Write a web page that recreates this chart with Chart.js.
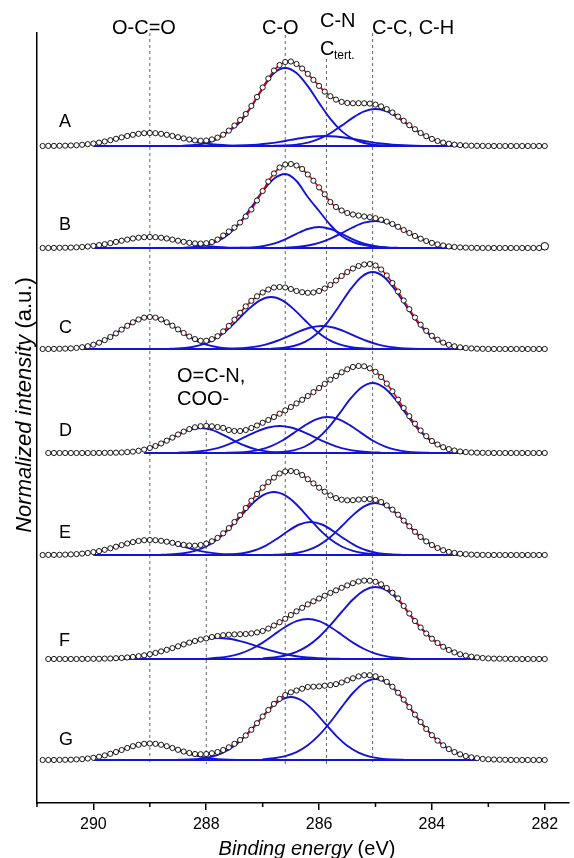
<!DOCTYPE html>
<html><head><meta charset="utf-8">
<script src="https://cdn.jsdelivr.net/npm/chart.js@4.4.1/dist/chart.umd.min.js"></script>
<style>html,body{margin:0;padding:0;background:#fff;overflow:hidden}#wrap{width:574px;height:858px;position:relative}</style>
</head><body><div id="wrap"><canvas id="c" width="574" height="858"></canvas></div>
<script>
// Binding energy grid of the measured points (eV)
const energy = [290.9,290.8,290.7,290.6,290.5,290.4,290.3,290.2,290.1,290.0,
289.9,289.8,289.7,289.6,289.5,289.4,289.3,289.2,289.1,289.0,
288.9,288.8,288.7,288.6,288.5,288.4,288.3,288.2,288.1,288.0,
287.9,287.8,287.7,287.6,287.5,287.4,287.3,287.2,287.1,287.0,
286.9,286.8,286.7,286.6,286.5,286.4,286.3,286.2,286.1,286.0,
285.9,285.8,285.7,285.6,285.5,285.4,285.3,285.2,285.1,285.0,
284.9,284.8,284.7,284.6,284.5,284.4,284.3,284.2,284.1,284.0,
283.9,283.8,283.7,283.6,283.5,283.4,283.3,283.2,283.1,283.0,
282.9,282.8,282.7,282.6,282.5,282.4,282.3,282.2,282.1,282.0];

// Measured intensities (above each spectrum's own baseline)
const specA = [0,0.1,0.1,0.2,0.3,0.5,0.8,1.2,1.8,2.5,
3.4,4.5,5.8,7.2,8.6,10,11.2,12.2,12.8,13,
12.8,12.2,11.2,10.1,8.8,7.6,6.5,5.6,5.3,5.5,
6.6,8.4,11.3,15.4,20.5,26,32,40,49,58.5,
67.5,75.5,81,84,84.5,82,77.5,72.1,66.1,60.1,
54.4,49.8,46.4,44.1,43,42.7,42.8,42.7,42.4,41.4,
39.6,36.9,33.5,29.4,25.2,20.8,16.8,13,9.8,7.1,
5,3.4,2.3,1.4,0.9,0.5,0.3,0.2,0.1,0,
0,0,0,0,0,0,0,0,0,0];
const specB = [0,0,0.1,0.2,0.3,0.4,0.7,1,1.5,2.1,
2.9,3.8,4.9,6.1,7.3,8.4,9.5,10.3,10.8,11,
10.8,10.3,9.5,8.4,7.3,6.2,5.2,4.6,4.4,4.8,
6,8.5,12.5,16.5,20.5,25.5,31.5,38.5,47.5,57,
66.5,74.5,80.5,83.5,84,82.5,79,73.5,67.3,60.6,
53.7,46,41,37.5,35,33.5,32.5,31.5,30.8,29.8,
28.3,26.4,24,21.2,18,15,12,9.3,7,5.1,
3.6,2.5,1.6,1,0.6,0.4,0.2,0.1,0,0,
0,0,0,0,0,0,0,0,0,null];
const specBLast = [[282.0,1.7]];
const specC = [0,0,0.1,0.2,0.35,0.6,1.1,1.8,2.8,4.3,
6.3,8.9,12,15.6,19.4,23.2,26.7,29.5,31.4,32,
31.4,29.5,26.7,23.3,19.6,16,12.5,9.9,8.3,8.3,
9.8,12.8,17.6,23.1,29.3,36.2,42.6,48.2,52.7,56.5,
59.5,61.5,62,61.5,60,58,56.8,56.2,56.5,58,
60.5,64,68.5,73,77,80.5,83,84.5,85,83.5,
79.5,73.5,66,57.5,48.5,39.8,31.5,24.3,18.2,13.2,
9.3,6.4,4.2,2.7,1.7,1,0.6,0.3,0.2,0,
0,0,0,0,0,0,0,0,0,0];
const specD = [null,0,0,0,0,0,0,0,0,0,
0.1,0.1,0.2,0.3,0.5,0.9,1.4,2.2,3.4,5,
7,9.5,12.3,15.4,18.5,21.4,23.9,25.7,26.8,27.1,
26.7,26,25.1,23,22,22,23,25,27.5,30.2,
33,36,39.3,42.6,46,49.6,53.2,57,60.9,65,
69.1,73.3,77.1,80.7,83.7,86,87,86.7,84.7,81.1,
76,69.4,61.7,53.4,45,36.8,29.3,22.5,16.8,12,
8.5,5.8,3.9,2.5,1.5,0.9,0.5,0.3,0.2,0.1,
0,0,0,0,0,0,0,0,0,0];
const specE = [0,0.1,0.1,0.2,0.4,0.6,0.9,1.4,2,2.9,
3.9,5.2,6.7,8.3,9.9,11.5,12.9,14,14.8,15,
14.8,14.2,13.3,12.2,11,10.1,9.5,9.3,10,11.4,
13.7,17.1,21.7,26.9,33,39.9,47,54.3,61,67.4,
72.9,77.4,81.5,83.5,84,83,80,75.8,71.6,67.3,
63.3,59.6,56.9,55.3,54.7,54.8,55.4,55.8,55.9,55.1,
53,49.6,45.4,40.3,34.4,28.7,23.2,18.1,13.6,10,
7,4.8,3.1,2.1,1.3,0.8,0.4,0.2,0.1,0,
0,0,0,0,0,0,0,0,0,0];
const specF = [null,0,0,0,0,0,0,0.1,0.1,0.2,
0.2,0.4,0.5,0.8,1.1,1.5,2.1,2.8,3.7,4.8,
6.1,7.6,9.2,10.9,12.7,14.6,16.4,18,19.5,20.6,
22,23,23.8,24.3,24.6,24.8,25,25.6,26.6,28,
30.4,33.5,36.8,40.2,44,47.7,51.2,54.6,57.7,60.5,
63.3,66.1,68.6,71.2,73.6,75.8,77.5,78.4,78.3,77.2,
74.7,71,66.3,60.6,53,45.5,38,31.5,25.5,20.3,
16,12.2,9,6.6,4.7,3.4,2.4,1.6,1,0.6,
0.4,0.3,0.2,0.1,0,0,0,0,0,0];
const specG = [0,0,0,0.1,0.2,0.3,0.6,0.9,1.5,2.2,
3.3,4.6,6.2,8,10,12,13.8,15.2,16.2,16.5,
16.2,15.2,13.8,12,10.2,8.5,7,6,5.8,6,
6.8,8,10,12.7,16.2,20,24.5,30.2,36.8,43.5,
50,56.1,61.1,65,67.7,69.5,71.3,73,73.3,73.6,
74.3,74.9,75.9,77.5,79.8,81.7,83.6,84.8,84.8,83.7,
81.4,78.2,73.3,67.3,60.3,52.9,45.4,38,31,24.8,
19.4,14.7,10.9,7.9,5.7,3.9,2.7,1.8,1.1,0.7,
0.5,0.3,0.2,0.1,0,0,0,0,0,0];

// Fitted components [energy, intensity]
const A_OCO = [[290.0,2.5],[289.8,4.5],[289.6,7.2],[289.4,10],[289.2,12.2],[289.0,13],[288.8,12.2],[288.6,10],[288.4,7.2],[288.2,4.5],[288.0,2.5],[287.8,1.2],[287.6,0.5],[287.4,0.2],[287.2,0]];
const A_CO = [[288.6,0],[288.4,0.4],[288.2,1.1],[288.0,3],[287.8,7.2],[287.6,14.9],[287.4,24],[287.2,39.5],[287.0,57.5],[286.8,73],[286.6,78],[286.4,73],[286.2,59.9],[286.0,43.1],[285.8,27.1],[285.6,14.9],[285.4,7.2],[285.2,3],[285.0,1.1],[284.8,0.4],[284.6,0]];
const A_CN = [[287.7,0.1],[287.5,0.3],[287.3,0.7],[287.1,1.4],[286.9,2.5],[286.7,4.1],[286.5,6.1],[286.3,8],[286.1,9.5],[285.9,10],[285.7,9.5],[285.5,8],[285.3,6.1],[285.1,4.1],[284.9,2.5],[284.7,1.4],[284.5,0.7],[284.3,0.3],[284.1,0.1]];
const A_CC = [[286.8,0.2],[286.6,0.5],[286.4,1.4],[286.2,3.4],[286.0,7.1],[285.8,12.8],[285.6,20.4],[285.4,28.4],[285.2,34.6],[285.0,37],[284.8,34.6],[284.6,28.4],[284.4,20.4],[284.2,12.8],[284.0,7.1],[283.8,3.4],[283.6,1.4],[283.4,0.5]];

const B_OCO = [[290.0,2.1],[289.8,3.8],[289.6,6.1],[289.4,8.4],[289.2,10.3],[289.0,11],[288.8,10.3],[288.6,8.4],[288.4,6.1],[288.2,3.8],[288.0,2.1],[287.8,1],[287.6,0.4],[287.4,0.2],[287.2,0]];
const B_CO = [[288.4,0.4],[288.2,1.1],[288.0,2.9],[287.8,6.8],[287.6,14.1],[287.4,25.7],[287.2,40.8],[287.0,56.8],[286.8,69.3],[286.6,74],[286.4,67],[286.2,51],[286.0,37],[285.8,23],[285.6,12],[285.4,6],[285.2,3],[285.0,1.2],[284.8,0.4],[284.6,0]];
const B_CN = [[287.4,0.2],[287.2,0.6],[287.0,1.8],[286.8,4.3],[286.6,8.6],[286.4,14.2],[286.2,19],[286.0,21],[285.8,19],[285.6,14.2],[285.4,8.6],[285.2,4.3],[285.0,1.8],[284.8,0.6],[284.6,0.2]];
const B_CC = [[286.6,0.4],[286.4,1.1],[286.2,2.5],[286.0,5.1],[285.8,9.4],[285.6,14.9],[285.4,20.7],[285.2,25.3],[285.0,27],[284.8,25.3],[284.6,20.7],[284.4,14.9],[284.2,9.4],[284.0,5.1],[283.8,2.5],[283.6,1.1]];

const C_OCO = [[290.2,1.8],[290.0,4.3],[289.8,8.9],[289.6,15.6],[289.4,23.2],[289.2,29.5],[289.0,32],[288.8,29.5],[288.6,23.2],[288.4,15.6],[288.2,8.9],[288.0,4.3],[287.8,1.8],[287.6,0.6],[287.4,0.2],[287.2,0]];
const C_CO = [[288.65,0.25],[288.45,0.75],[288.25,2],[288.05,4.8],[287.85,9.9],[287.65,18],[287.45,28.7],[287.25,39.9],[287.05,48.7],[286.85,52],[286.65,48.7],[286.45,39.9],[286.25,28.7],[286.05,18],[285.85,9.9],[285.65,4.8],[285.45,2],[285.25,0.75],[285.05,0.25]];
const C_CN = [[287.75,0.1],[287.55,0.3],[287.35,0.9],[287.15,2.1],[286.95,4.4],[286.75,8],[286.55,12.7],[286.35,17.7],[286.15,21.5],[285.95,23],[285.75,21.5],[285.55,17.7],[285.35,12.7],[285.15,8],[284.95,4.4],[284.75,2.1],[284.55,0.9],[284.35,0.3],[284.15,0.1]];
const C_CC = [[286.85,0.4],[286.65,1.1],[286.45,3],[286.25,7.1],[286.05,14.7],[285.85,26.7],[285.65,42.5],[285.45,59.1],[285.25,72.1],[285.05,77],[284.85,72.1],[284.65,59.1],[284.45,42.5],[284.25,26.7],[284.05,14.7],[283.85,7.1],[283.65,3],[283.45,1.1]];

const D_OCN = [[289.1,3.4],[288.9,7],[288.7,12.2],[288.5,18.2],[288.3,23.1],[288.1,25],[287.9,23.1],[287.7,18.2],[287.5,12.2],[287.3,7],[287.1,3.4],[286.9,1.4],[286.7,0.5],[286.5,0.15],[286.3,0]];
const D_CO = [[288.5,0.3],[288.3,0.8],[288.1,1.8],[287.9,3.6],[287.7,6.7],[287.5,11.1],[287.3,16.4],[287.1,21.6],[286.9,25.5],[286.7,27],[286.5,25.5],[286.3,21.6],[286.1,16.4],[285.9,11.1],[285.7,6.7],[285.5,3.6],[285.3,1.8],[285.1,0.8],[284.9,0.3]];
const D_CN = [[287.65,0.2],[287.45,0.5],[287.25,1.4],[287.05,3.3],[286.85,6.9],[286.65,12.5],[286.45,19.9],[286.25,27.6],[286.05,33.7],[285.85,36],[285.65,33.7],[285.45,27.6],[285.25,19.9],[285.05,12.5],[284.85,6.9],[284.65,3.3],[284.45,1.4],[284.25,0.5],[284.05,0.2]];
const D_CC = [[286.85,0.3],[286.65,1],[286.45,2.7],[286.25,6.5],[286.05,13.4],[285.85,24.3],[285.65,38.6],[285.45,53.8],[285.25,65.5],[285.05,70],[284.85,65.5],[284.65,53.8],[284.45,38.6],[284.25,24.3],[284.05,13.4],[283.85,6.5],[283.65,2.7],[283.45,1]];

const E_OCO = [[290.0,2.9],[289.8,5.2],[289.6,8.3],[289.4,11.5],[289.2,14],[289.0,15],[288.8,14],[288.6,11.5],[288.4,8.3],[288.2,5.2],[288.0,2.9],[287.8,1.4],[287.6,0.6],[287.4,0.2],[287.2,0]];
const E_CO = [[288.8,0.2],[288.6,0.7],[288.4,1.8],[288.2,4.2],[288.0,8.5],[287.8,15.7],[287.6,25.9],[287.4,38.2],[287.2,50.5],[287.0,59.6],[286.8,63],[286.6,59.6],[286.4,50.5],[286.2,38.2],[286.0,25.9],[285.8,15.7],[285.6,8.5],[285.4,4.2],[285.2,1.8],[285.0,0.7],[284.8,0.2]];
const E_CN = [[287.75,0.2],[287.55,0.7],[287.35,1.8],[287.15,4.5],[286.95,9.2],[286.75,16.1],[286.55,24],[286.35,30.5],[286.15,33],[285.95,30.5],[285.75,24],[285.55,16.1],[285.35,9.2],[285.15,4.5],[284.95,1.8],[284.75,0.7],[284.55,0.2]];
const E_CC = [[286.8,0.25],[286.6,0.75],[286.4,2],[286.2,4.8],[286.0,9.9],[285.8,18],[285.6,28.7],[285.4,39.9],[285.2,48.7],[285.0,52],[284.8,48.7],[284.6,39.9],[284.4,28.7],[284.2,18],[284.0,9.9],[283.8,4.8],[283.6,2],[283.4,0.75]];

const F_OCN = [[289.6,0.8],[289.4,1.5],[289.2,2.8],[289.0,4.8],[288.8,7.6],[288.6,10.9],[288.4,14.6],[288.2,17.8],[288.0,20.2],[287.8,21],[287.6,20.2],[287.4,17.8],[287.2,14.6],[287.0,10.9],[286.8,7.6],[286.6,4.8],[286.4,2.8],[286.2,1.5],[286.0,0.8],[285.8,0.36],[285.6,0.15]];
const F_CN = [[288.0,0.4],[287.8,1.2],[287.6,2.6],[287.4,5.4],[287.2,10],[287.0,16.4],[286.8,24.3],[286.6,32],[286.4,37.8],[286.2,40],[286.0,37.8],[285.8,32],[285.6,24.3],[285.4,16.4],[285.2,10],[285.0,5.4],[284.8,2.6],[284.6,1.2],[284.4,0.4]];
const F_CC = [[287.0,0.65],[286.8,1.6],[286.6,3.5],[286.4,7.1],[286.2,13.1],[286.0,22],[285.8,33.8],[285.6,47],[285.4,59.5],[285.2,68.7],[285.0,72],[284.8,68.7],[284.6,59.5],[284.4,45],[284.2,31.5],[284.0,20.3],[283.8,12.2],[283.6,6.6],[283.4,3.2],[283.2,1.5]];

const G_OCO = [[290.0,2.2],[289.8,4.6],[289.6,8],[289.4,12],[289.2,15.2],[289.0,16.5],[288.8,15.2],[288.6,12],[288.4,8],[288.2,4.6],[288.0,2.2],[287.8,0.9],[287.6,0.3],[287.4,0.1],[287.2,0]];
const G_CO = [[288.5,0.2],[288.3,0.5],[288.1,1.4],[287.9,3.4],[287.7,7.4],[287.5,14.2],[287.3,24.4],[287.1,36.9],[286.9,49.6],[286.7,59.3],[286.5,63],[286.3,59.3],[286.1,49.6],[285.9,36.9],[285.7,24.4],[285.5,14.2],[285.3,7.4],[285.1,3.4],[284.9,1.4],[284.7,0.5],[284.5,0.2]];
const G_CC = [[287.0,0.7],[286.8,1.8],[286.6,3.9],[286.4,7.9],[286.2,14.7],[286.0,24.8],[285.8,38],[285.6,52.9],[285.4,67],[285.2,77.3],[285.0,81],[284.8,77.3],[284.6,67],[284.4,52.9],[284.2,38],[284.0,24.8],[283.8,14.7],[283.6,7.9],[283.4,3.9],[283.2,1.8]];

const sampleNames = ['A','B','C','D','E','F','G'];
const spectra = [specA, specB, specC, specD, specE, specF, specG];
const components = [
  [A_OCO, A_CO, A_CN, A_CC],
  [B_OCO, B_CO, B_CN, B_CC],
  [C_OCO, C_CO, C_CN, C_CC],
  [D_OCN, D_CO, D_CN, D_CC],
  [E_OCO, E_CO, E_CN, E_CC],
  [F_OCN, F_CN, F_CC],
  [G_OCO, G_CO, G_CC]
];
const offsets = [614, 512, 411, 307, 205, 101, 0];
const fitWindows = [[290.0,283.4],[290.0,283.6],[290.2,283.4],[289.1,283.4],[290.0,283.4],[289.6,283.2],[290.0,283.2]];
const letterY = [633, 530, 427, 324, 222, 114, 15];
const refEnergies = [289.0, 288.0, 286.6, 285.87, 285.05];
const refTop = [727, 340, 725, 701, 727];
const refBottom = -4;
const minorTicks = [291, 289, 287, 285, 283];

const BLUE = '#1414d8';
const RED = '#e00000';
const FONT = '"Liberation Sans", Arial, Helvetica, sans-serif';

const datasets = [];
refEnergies.forEach((e, i) => {
  datasets.push({ data: [{x: e, y: refTop[i]}, {x: e, y: refBottom}], showLine: true, pointRadius: 0,
    borderColor: '#555', borderWidth: 0.9, borderDash: [3, 3], order: 5 });
});
spectra.forEach((vals, s) => {
  const off = offsets[s];
  const [w0, w1] = fitWindows[s];
  datasets.push({ data: [{x: w0, y: off}, {x: w1, y: off}], showLine: true, pointRadius: 0,
    borderColor: BLUE, borderWidth: 1.9, order: 4 });
  components[s].forEach(comp => {
    datasets.push({ data: comp.map(([e, v]) => ({x: e, y: v + off})), showLine: true, pointRadius: 0,
      borderColor: BLUE, borderWidth: 1.9, cubicInterpolationMode: 'monotone', order: 3 });
  });
  const fit = [];
  energy.forEach((e, i) => { if (vals[i] !== null && e <= w0 + 1e-6 && e >= w1 - 1e-6) fit.push({x: e, y: vals[i] + off}); });
  datasets.push({ data: fit, showLine: true, pointRadius: 0, borderColor: RED, borderWidth: 1.6,
    cubicInterpolationMode: 'monotone', order: 2 });
  const pts = [];
  energy.forEach((e, i) => { if (vals[i] !== null) pts.push({x: e, y: vals[i] + off}); });
  datasets.push({ data: pts, showLine: false, pointRadius: 2.6, pointBorderWidth: 0.9,
    pointBorderColor: '#000', pointBackgroundColor: '#fff', order: 1 });
});
datasets.push({ data: specBLast.map(([e, v]) => ({x: e, y: v + offsets[1]})), showLine: false,
  pointRadius: 3.8, pointBorderWidth: 1, pointBorderColor: '#000', pointBackgroundColor: '#fff', order: 1 });

const annot = {
  id: 'annot',
  afterDraw(chart) {
    const {ctx, scales: {x, y}, chartArea} = chart;
    ctx.save();
    ctx.strokeStyle = '#000'; ctx.lineWidth = 1.5;
    minorTicks.forEach(v => {
      const px = x.getPixelForValue(v);
      ctx.beginPath(); ctx.moveTo(px, chartArea.bottom); ctx.lineTo(px, chartArea.bottom + 4); ctx.stroke();
    });
    ctx.fillStyle = '#000';
    ctx.textBaseline = 'alphabetic';
    ctx.textAlign = 'left';
    ctx.font = '18px ' + FONT;
    sampleNames.forEach((l, i) => ctx.fillText(l, 59, y.getPixelForValue(letterY[i])));
    ctx.font = '20px ' + FONT;
    ctx.fillText('O-C=O', 112, 34);
    ctx.fillText('C-O', 262, 34);
    ctx.fillText('C-N', 320, 27);
    ctx.fillText('C', 320, 55);
    ctx.fillText('C-C, C-H', 372, 34);
    ctx.fillText('O=C-N,', 177, 382);
    ctx.fillText('COO-', 177, 405);
    ctx.font = '12px ' + FONT;
    ctx.fillText('tert.', 334, 59);
    // x title
    ctx.font = 'italic 20px ' + FONT;
    const t1 = 'Binding energy', t2 = ' (eV)';
    const w1 = ctx.measureText(t1).width;
    ctx.font = '20px ' + FONT;
    const w2 = ctx.measureText(t2).width;
    let sx = 307 - (w1 + w2) / 2;
    ctx.font = 'italic 20px ' + FONT; ctx.fillText(t1, sx, 855);
    ctx.font = '20px ' + FONT; ctx.fillText(t2, sx + w1, 855);
    // y title
    ctx.translate(31, 405);
    ctx.rotate(-Math.PI / 2);
    const y1 = 'Normalized intensity', y2 = ' (a.u.)';
    ctx.font = 'italic 22px ' + FONT;
    const v1 = ctx.measureText(y1).width;
    ctx.font = '22px ' + FONT;
    const v2 = ctx.measureText(y2).width;
    sx = -(v1 + v2) / 2;
    ctx.font = 'italic 22px ' + FONT; ctx.fillText(y1, sx, 0);
    ctx.font = '22px ' + FONT; ctx.fillText(y2, sx + v1, 0);
    ctx.restore();
  }
};

new Chart(document.getElementById('c'), {
  type: 'scatter',
  data: { datasets },
  options: {
    responsive: false,
    animation: false,
    devicePixelRatio: 1,
    layout: { padding: { top: 33, left: 0, right: 0, bottom: 0 } },
    plugins: { legend: { display: false }, tooltip: { enabled: false }, title: { display: false } },
    elements: { line: { tension: 0 } },
    scales: {
      x: {
        type: 'linear', reverse: true, min: 281.57, max: 291,
        afterFit: (s) => { s.height = 55; },
        border: { display: true, color: '#000', width: 1.5 },
        grid: { display: true, drawOnChartArea: false, drawTicks: true, tickLength: 7, lineWidth: 1.5,
          tickColor: (c) => (c.tick && Math.round(c.tick.value) % 2 === 0) ? '#000' : 'rgba(0,0,0,0)' },
        ticks: { stepSize: 1, includeBounds: false, padding: 5, color: '#000', font: { size: 16, family: FONT },
          maxRotation: 0, autoSkip: false,
          callback: (v) => (Math.round(v) % 2 === 0 ? String(Math.round(v)) : '') }
      },
      y: {
        type: 'linear', min: -43, max: 727,
        afterFit: (s) => { s.width = 37; },
        border: { display: true, color: '#000', width: 1.5 },
        grid: { display: true, drawOnChartArea: false, drawTicks: false },
        ticks: { display: false }
      }
    }
  },
  plugins: [annot]
});
</script>
</body></html>
